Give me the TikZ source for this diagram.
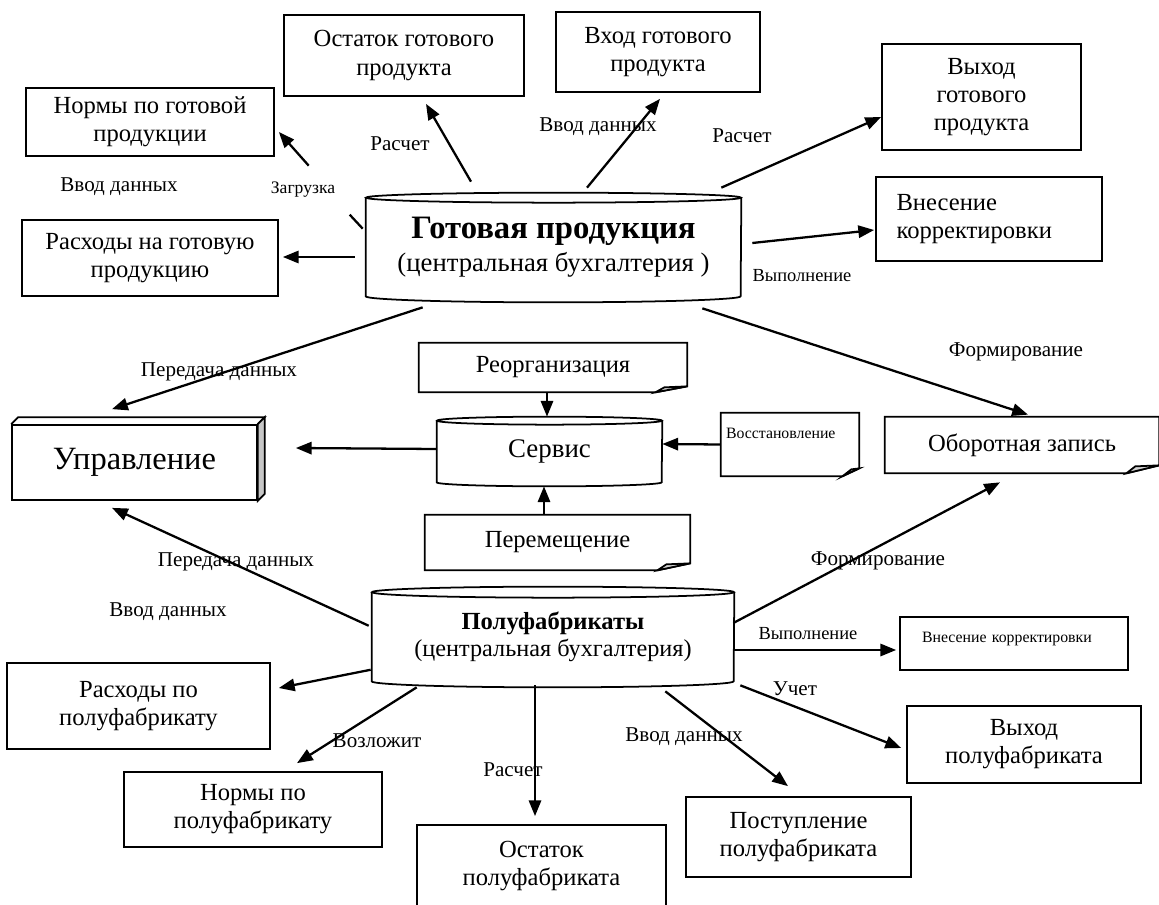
\documentclass[tikz,border=0pt]{standalone}
\usepackage{fontspec}
\setmainfont{Liberation Serif}
\usetikzlibrary{arrows.meta,calc}

\tikzset{
  boxline/.style={line width=1pt},
  box/.style={draw, boxline, align=center, inner sep=2pt, font=\fontsize{14}{16}\selectfont},
  plain/.style={inner sep=0pt, align=center, font=\fontsize{14}{16}\selectfont},
  lbl/.style={inner sep=0pt, font=\fontsize{12}{14}\selectfont},
  lblsmall/.style={inner sep=0pt, font=\fontsize{10.5}{12}\selectfont},
  arr/.style={line width=1.3pt, -{Triangle[length=9pt,width=7pt]}},
}

% cylinder outline round a node: name, x radius, top y radius, bottom y radius
\newcommand{\cylshape}[4]{%
  \draw[boxline] (#1.north west) -- (#1.south west)
    arc[start angle=180, end angle=360, x radius=#2, y radius=#4] -- (#1.north east);
  \draw[boxline] (#1.north) ellipse[x radius=#2, y radius=#3];}
% note with folded corner: name, cut x, cut y
\newcommand{\notefold}[3]{%
  \draw[boxline] (#1.north west) -- (#1.north east) -- ($(#1.south east)+(0,-#3)$)
    -- ($(#1.south east)+(-#2,0)$) -- (#1.south west) -- cycle;
  \filldraw[boxline, fill=gray!35] ($(#1.south east)+(-#2,0)$) -- ($(#1.south east)+(-#2+9,-#3+1)$)
    -- ($(#1.south east)+(0,-#3)$) -- cycle;}

\begin{document}
\begin{tikzpicture}[x=0.02cm, y=-0.02cm]
\useasboundingbox (0,0) rectangle (1159,905);
%upper boxes
\node[box, minimum width=4.96cm, minimum height=1.36cm] (normg) at (150,122) {Нормы по готовой\\продукции};
\node[box, minimum width=4.8cm, minimum height=1.62cm] (ostg) at (404,55.5) {Остаток готового\\продукта};
\node[box, minimum width=4.08cm, minimum height=1.6cm] (vhodg) at (658,52) {Вход готового\\продукта};
\node[box, minimum width=3.98cm, minimum height=2.12cm] (vyhg) at (981.5,97) {Выход\\готового\\продукта};
\node[box, minimum width=4.52cm, minimum height=1.68cm, text width=3.7cm, align=left] (vnesg) at (989,219) {Внесение\\корректировки};
\node[box, minimum width=5.12cm, minimum height=1.52cm] (rashg) at (150,258) {Расходы на готовую\\продукцию};
%finished product store
\node[plain, minimum width=7.5cm, minimum height=1.96cm, font=\fontsize{15.2}{18.7}\selectfont] (gp) at (553.5,247)
  {{\fontsize{18.6}{20}\selectfont\bfseries Готовая продукция}\\(центральная бухгалтерия )};
\cylshape{gp}{3.75cm}{0.1cm}{0.12cm}
%management
\node[box, minimum width=4.9cm, minimum height=1.5cm, font=\fontsize{18.5}{21}\selectfont] (upr) at (134.5,462.5) {Управление};
\draw[boxline] (upr.north west) -- ++(7,-7) -- ($(upr.north east)+(7,-7)$) -- (upr.north east);
\filldraw[boxline, fill=gray!45] (upr.north east) -- ++(7,-7) -- ($(upr.south east)+(7,-7)$) -- (upr.south east) -- cycle;
%service
\node[plain, minimum width=5.36cm, minimum height=0.98cm] (reorg) at (553,367.5) {Реорганизация};
\notefold{reorg}{32}{6}
\node[plain, minimum width=4.5cm, minimum height=1.22cm, font=\fontsize{15.3}{17}\selectfont] (serv) at (549.5,451.5) {Сервис};
\cylshape{serv}{2.25cm}{0.08cm}{0.08cm}
\node[plain, minimum width=2.76cm, text width=2.56cm, align=left, text height=0.5cm, text depth=0.76cm, font=\fontsize{9}{11}\selectfont] (vost) at (790,444.5) {Восстановление};
\notefold{vost}{17}{8}
\node[plain, minimum width=5.3cm, minimum height=1.1cm] (perem) at (557.5,542.5) {Перемещение};
\notefold{perem}{33}{7}
\node[plain, minimum width=5.48cm, minimum height=1.12cm] (oborot) at (1022,445) {Оборотная запись};
\notefold{oborot}{33}{8}
%semi-finished store
\node[plain, minimum width=7.24cm, minimum height=1.77cm, font=\fontsize{13.8}{15.3}\selectfont] (pf) at (553,636.75)
  {{\fontsize{14}{16}\selectfont\bfseries Полуфабрикаты}\\(центральная бухгалтерия)};
\cylshape{pf}{3.62cm}{0.11cm}{0.12cm}
%lower boxes
\node[box, minimum width=5.26cm, minimum height=1.72cm] (raspf) at (138.5,706) {Расходы по\\полуфабрикату};
\node[box, minimum width=5.16cm, minimum height=1.5cm] (normpf) at (253,809.5) {Нормы по\\полуфабрикату};
\node[box, minimum width=4.98cm, minimum height=1.64cm] (ostpf) at (541.5,866) {Остаток\\полуфабриката};
\node[box, minimum width=4.5cm, minimum height=1.6cm] (postpf) at (798.5,837) {Поступление\\полуфабриката};
\node[box, minimum width=4.68cm, minimum height=1.54cm] (vyhpf) at (1024,744.5) {Выход\\полуфабриката};
\node[box, minimum width=4.56cm, text width=3.68cm, align=left, inner sep=0pt, text height=0.5cm, text depth=0.56cm, font=\fontsize{9}{11}\selectfont] (vnespf) at (1014,643.5) {Внесение корректировки};

%arrows from finished product
\draw[arr] ($(gp.north west)+(-57,-32)$) -- ($(normg.east)+(4,10)$);
\draw[line width=1.3pt] ($(gp.north west)+(-16,17)$) -- ($(gp.north west)+(-3,31)$);
\draw[arr] ($(gp.north)+(-82.5,-16)$) -- ($(ostg.south)+(22,7)$);
\draw[arr] ($(gp.north)+(33.5,-10)$) -- ($(vhodg.south)+(2,6)$);
\draw[arr] ($(gp.north east)+(-20,-10)$) -- ($(vyhg.west)+(0,20)$);
\draw[arr] ($(gp.east)+(11,-4)$) -- ($(vnesg.west)+(-1,11)$);
\draw[arr] ($(gp.west)+(-11,10)$) -- ($(rashg.east)+(4,-1)$);
\draw[arr] ($(gp.south west)+(57,11)$) -- ($(upr.north)+(-22.5,-15)$);
\draw[arr] ($(gp.south east)+(-39,12)$) -- ($(oborot.north)+(6,-2)$);
%service arrows
\draw[arr] ($(reorg.south)+(-6,0)$) -- ($(serv.north)+(-2.5,-4)$);
\draw[arr] ($(serv.west)+(0,-2.5)$) -- ($(upr.east)+(38,-14.5)$);
\draw[arr] (vost.west) -- ($(serv.east)+(0,-7.5)$);
\draw[arr] ($(perem.north)+(-13.5,0)$) -- ($(serv.south)+(-5.5,4)$);
%arrows from semi-finished
\draw[arr] ($(pf.west)+(-3,-11)$) -- ($(upr.south)+(-22.5,7)$);
\draw[arr] ($(pf.west)+(-1,33)$) -- ($(raspf.east)+(8,-18)$);
\draw[arr] ($(pf.south west)+(45,6)$) -- ($(normpf.north)+(44,-8)$);
\draw[arr] ($(pf.south)+(-18,4)$) -- ($(ostpf.north)+(-6.5,-8)$);
\draw[arr] ($(pf.south east)+(-69,10)$) -- ($(postpf.north)+(-10.5,-10)$);
\draw[arr] ($(pf.south east)+(6,4)$) -- ($(vyhpf.west)+(-5,3.5)$);
\draw[arr] ($(pf.east)+(0,13.25)$) -- ($(vnespf.west)+(-3,6.5)$);
\draw[arr] ($(pf.east)+(-1,-13.75)$) -- ($(oborot.south)+(-22,9)$);

%labels
\node[lbl] (l1) at (119,187) {Ввод данных};
\node[lblsmall, font=\fontsize{10}{12}\selectfont] (l2) at (303,190) {Загрузка};
\node[lbl] (l3) at (400,144) {Расчет};
\node[lbl] (l4) at (598,127) {Ввод данных};
\node[lbl] (l5) at (742,136) {Расчет};
\node[lblsmall] (l6) at (802,276) {Выполнение};
\node[lbl] (l7) at (219,372) {Передача данных};
\node[lbl] (l8) at (1016,352) {Формирование};
\node[lbl] (l9) at (236,562) {Передача данных};
\node[lbl] (l10) at (168,612) {Ввод данных};
\node[lbl] (l11) at (878,561) {Формирование};
\node[lblsmall] (l12) at (808,634) {Выполнение};
\node[lbl] (l13) at (795,689) {Учет};
\node[lbl] (l14) at (684,737) {Ввод данных};
\node[lbl] (l15) at (513,770) {Расчет};
\node[lbl] (l16) at (377,741) {Возложит};
\end{tikzpicture}
\end{document}
